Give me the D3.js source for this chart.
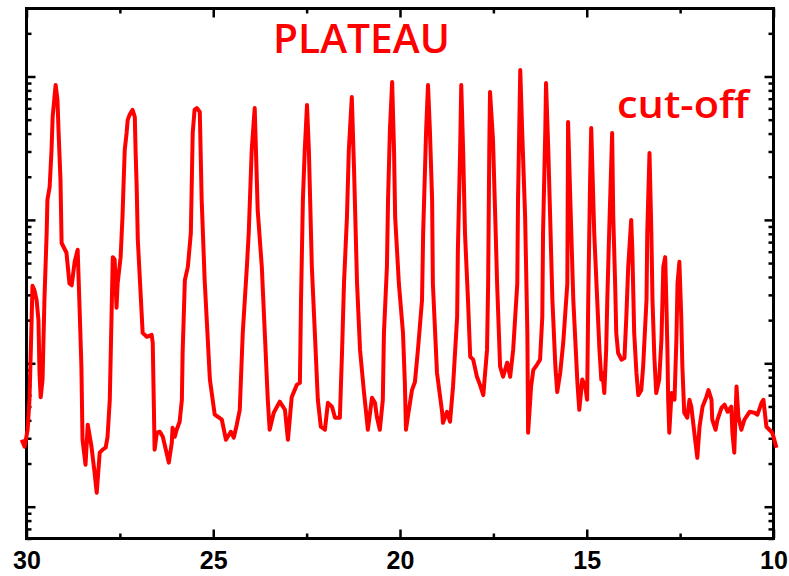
<!DOCTYPE html>
<html>
<head>
<meta charset="utf-8">
<script src="https://d3js.org/d3.v7.min.js"></script>
<style>
  body { margin: 0; background: #fff; }
</style>
</head>
<body>
<div id="chart"></div>
<script>
// spectrum (x reversed, y log)
var energy = [30.13, 30.05, 29.97, 29.92, 29.87, 29.84, 29.79, 29.73, 29.68, 29.65, 29.62, 29.57, 29.52, 29.46, 29.44, 29.38, 29.33, 29.30, 29.22, 29.17,
    29.14, 29.09, 29.06, 28.93, 28.85, 28.79, 28.71, 28.63, 28.58, 28.53, 28.50, 28.42, 28.36, 28.26, 28.18, 28.12, 28.04, 27.96, 27.88, 27.83,
    27.77, 27.69, 27.64, 27.59, 27.56, 27.48, 27.43, 27.40, 27.37, 27.32, 27.29, 27.24, 27.16, 27.10, 27.08, 27.05, 27.02, 26.89, 26.78, 26.65,
    26.62, 26.57, 26.51, 26.43, 26.35, 26.25, 26.19, 26.11, 26.09, 26.03, 25.98, 25.90, 25.84, 25.82, 25.76, 25.68, 25.60, 25.55, 25.50, 25.44,
    25.36, 25.31, 25.23, 25.09, 24.96, 24.88, 24.77, 24.66, 24.53, 24.45, 24.37, 24.29, 24.21, 24.10, 24.05, 23.97, 23.89, 23.81, 23.70, 23.62,
    23.54, 23.49, 23.38, 23.22, 23.08, 23.00, 22.90, 22.76, 22.68, 22.65, 22.60, 22.55, 22.49, 22.44, 22.36, 22.28, 22.20, 22.12, 22.01, 21.93,
    21.82, 21.74, 21.61, 21.55, 21.50, 21.42, 21.37, 21.29, 21.23, 21.15, 21.07, 20.97, 20.86, 20.75, 20.67, 20.62, 20.54, 20.46, 20.43, 20.35,
    20.32, 20.27, 20.21, 20.16, 20.13, 20.03, 19.92, 19.87, 19.84, 19.79, 19.68, 19.60, 19.52, 19.41, 19.38, 19.30, 19.25, 19.20, 19.14, 19.12,
    19.01, 18.87, 18.85, 18.74, 18.66, 18.58, 18.47, 18.45, 18.39, 18.36, 18.31, 18.26, 18.18, 18.12, 18.04, 17.94, 17.86, 17.77, 17.67, 17.64,
    17.61, 17.59, 17.51, 17.45, 17.40, 17.32, 17.24, 17.13, 17.05, 16.97, 16.86, 16.84, 16.78, 16.73, 16.65, 16.59, 16.57, 16.49, 16.43, 16.33,
    16.25, 16.19, 16.17, 16.11, 16.09, 16.03, 15.98, 15.92, 15.84, 15.79, 15.71, 15.63, 15.52, 15.50, 15.44, 15.36, 15.25, 15.20, 15.12, 15.04,
    14.99, 14.96, 14.91, 14.88, 14.80, 14.72, 14.66, 14.61, 14.58, 14.53, 14.48, 14.45, 14.40, 14.32, 14.29, 14.24, 14.21, 14.16, 14.07, 13.99,
    13.94, 13.89, 13.81, 13.78, 13.73, 13.67, 13.62, 13.54, 13.49, 13.40, 13.38, 13.32, 13.27, 13.24, 13.19, 13.14, 13.06, 13.00, 12.95, 12.90,
    12.87, 12.84, 12.82, 12.79, 12.73, 12.65, 12.60, 12.57, 12.52, 12.47, 12.44, 12.39, 12.31, 12.25, 12.20, 12.12, 12.04, 11.98, 11.90, 11.80,
    11.74, 11.66, 11.64, 11.55, 11.50, 11.39, 11.31, 11.23, 11.13, 11.10, 11.05, 10.99, 10.94, 10.86, 10.78, 10.64, 10.51, 10.43, 10.32, 10.27,
    10.19, 10.11, 10.03, 9.92];

var counts = [2.93, 2.62, 3.44, 5.57, 17.1, 34.7, 32.5, 27.7, 20.1, 8.3, 5.8, 7.7, 27.7, 81, 138, 170, 307, 522, 873, 686,
    404, 190, 69, 59, 36, 35, 51, 62, 24.8, 9.5, 2.93, 1.96, 3.73, 2.62, 1.75, 1.25, 2.38, 2.50, 2.58, 3.07,
    5.57, 55, 53, 24.4, 36, 55, 105, 181, 307, 404, 498, 540, 585, 522, 307, 170, 73, 16.3, 15.3, 15.8,
    13.9, 2.50, 3.28, 3.33, 3.07, 2.38, 2.03, 2.79, 3.55, 3.07, 3.44, 3.91, 5.57, 11.8, 38, 47, 81, 404, 585, 603,
    566, 138, 38, 7.7, 4.38, 4.24, 4.04, 2.93, 3.33, 3.03, 3.73, 4.74, 16.3, 47, 81, 307, 603, 117, 47, 16.3,
    5.57, 3.44, 4.52, 5.4, 4.74, 2.93, 5.8, 7.1, 7.3, 27.7, 138, 307, 633, 307, 47, 16.3, 5.57, 3.61, 3.44, 5.3,
    4.98, 4.17, 4.17, 12.4, 36, 105, 307, 719, 223, 36, 12.4, 6.5, 3.44, 5.75, 5.3, 4.24, 3.44, 5.57, 16.3, 47,
    138, 424, 916, 307, 105, 36, 16.3, 7.3, 3.44, 4.24, 6.5, 7.4, 12.4, 27.7, 81, 424, 873, 424, 138, 36,
    8.6, 4.52, 3.85, 4.59, 3.91, 6.9, 21.1, 62, 307, 873, 307, 81, 27.7, 11.1, 10.6, 8.05, 7.1, 6.0, 12.4, 36,
    307, 780, 361, 105, 36, 9.5, 8.05, 10.1, 8.05, 12.4, 36, 138, 1110, 424, 105, 16.3, 3.28, 6.9, 9.0, 9.8,
    10.6, 21.1, 81, 424, 900, 307, 105, 27.7, 9.5, 6.3, 8.6, 13.9, 36, 482, 138, 27.7, 7.3, 4.74, 7.7, 6.9,
    5.57, 27.7, 190, 438, 81, 27.7, 12.4, 7.7, 8.6, 6.2, 12.4, 27.7, 81, 404, 105, 36, 16.3, 11.8, 10.6, 10.9,
    21.1, 47, 100, 62, 16.3, 8.6, 6.0, 6.5, 9.5, 27.7, 81, 293, 81, 27.7, 11.1, 6.2, 7.7, 14.6, 47, 55,
    27.7, 12.4, 5.57, 3.28, 6.2, 5.57, 14.6, 36, 51, 21.1, 9.5, 4.52, 4.17, 5.57, 4.98, 3.28, 2.19, 3.61, 4.98, 5.8,
    6.5, 5.57, 4.04, 3.44, 4.04, 4.9, 5.14, 4.59, 4.98, 3.28, 2.38, 6.9, 4.24, 3.44, 4.04, 4.59, 4.52, 4.38, 5.3, 5.57,
    3.61, 3.44, 3.28, 2.58];

var xTicks = [30, 25, 20, 15, 10];
var xMinorTicks = [27.5, 22.5, 17.5, 12.5];
var yMajorTicks = [1, 10, 100, 1000];
var yMinorTicks = [0.6, 0.7, 0.8, 0.9, 2, 3, 4, 5, 6, 7, 8, 9, 20, 30, 40, 50, 60, 70, 80, 90,
    200, 300, 400, 500, 600, 700, 800, 900, 2000];

var margin = {top: 8.5, right: 15.5, bottom: 37.5, left: 26.5},
    width = 789 - margin.left - margin.right,
    height = 576 - margin.top - margin.bottom;

var svg = d3.select("#chart")
    .append("svg")
    .attr("width", width + margin.left + margin.right)
    .attr("height", height + margin.top + margin.bottom)
    .append("g")
    .attr("transform", "translate(" + margin.left + "," + margin.top + ")");

var x = d3.scaleLinear()
    .domain([30, 10])
    .range([0, width]);

var y = d3.scaleLog()
    .domain([0.6, 2980])
    .range([height, 0]);

// ticks, all pointing inwards
function addAxis(axis, tx, ty, showLabels) {
    var g = svg.append("g")
        .attr("transform", "translate(" + tx + "," + ty + ")")
        .call(axis);
    g.select(".domain").remove();
    g.selectAll(".tick line").attr("stroke", "#000").attr("stroke-width", 2.5);
    if (showLabels) {
        g.selectAll(".tick text")
            .attr("fill", "#000")
            .style("font-family", "'Liberation Sans', Arial, sans-serif")
            .style("font-weight", "bold")
            .style("font-size", "25px");
    }
    return g;
}

addAxis(d3.axisBottom(x).tickValues(xTicks).tickSize(-9).tickPadding(13).tickFormat(d3.format("d")), 0, height, true);
addAxis(d3.axisBottom(x).tickValues(xMinorTicks).tickSize(-5).tickFormat(""), 0, height, false);
addAxis(d3.axisTop(x).tickValues(xTicks).tickSize(-9).tickFormat(""), 0, 0, false);
addAxis(d3.axisTop(x).tickValues(xMinorTicks).tickSize(-5).tickFormat(""), 0, 0, false);

addAxis(d3.axisLeft(y).tickValues(yMajorTicks).tickSize(-9).tickFormat(""), 0, 0, false);
addAxis(d3.axisLeft(y).tickValues(yMinorTicks).tickSize(-5).tickFormat(""), 0, 0, false);
addAxis(d3.axisRight(y).tickValues(yMajorTicks).tickSize(-9).tickFormat(""), width, 0, false);
addAxis(d3.axisRight(y).tickValues(yMinorTicks).tickSize(-5).tickFormat(""), width, 0, false);

// frame
svg.append("rect")
    .attr("x", 0)
    .attr("y", 0)
    .attr("width", width)
    .attr("height", height)
    .attr("fill", "none")
    .attr("stroke", "#000")
    .attr("stroke-width", 3);

// the curve
var line = d3.line()
    .x(function (d) { return x(d[0]); })
    .y(function (d) { return y(d[1]); });

svg.append("path")
    .datum(d3.zip(energy, counts))
    .attr("d", line)
    .attr("fill", "none")
    .attr("stroke", "#ff0000")
    .attr("stroke-width", 4)
    .attr("stroke-linejoin", "round");

// labels
svg.append("text")
    .attr("x", 273 - margin.left)
    .attr("y", 53 - margin.top)
    .attr("textLength", 177)
    .attr("lengthAdjust", "spacingAndGlyphs")
    .style("font-family", "'Open Sans', sans-serif")
    .style("font-weight", "600")
    .style("font-size", "39px")
    .style("fill", "#ff0000")
    .text("PLATEAU");

svg.append("text")
    .attr("x", 617 - margin.left)
    .attr("y", 118 - margin.top)
    .attr("textLength", 132)
    .attr("lengthAdjust", "spacingAndGlyphs")
    .style("font-family", "'Open Sans', sans-serif")
    .style("font-weight", "600")
    .style("font-size", "38px")
    .style("fill", "#ff0000")
    .text("cut-off");
</script>
</body>
</html>
